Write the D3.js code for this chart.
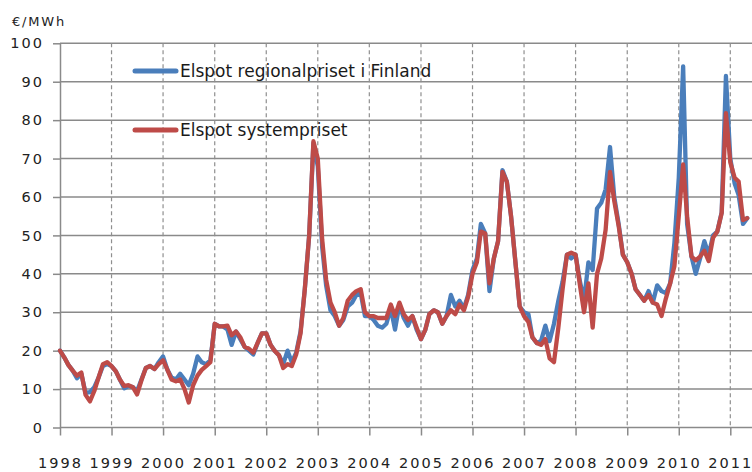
<!DOCTYPE html>
<html>
<head>
<meta charset="utf-8">
<script src="https://cdn.jsdelivr.net/npm/d3@7"></script>
<style>
  body { margin: 0; background: #fff; }
  svg { display: block; }
</style>
</head>
<body>
<div id="chart"></div>
<script>

// Monthly Elspot prices, €/MWh, Jan 1998 - May 2011

// first month of the series, one value per month after that
const startMonth = new Date(1998, 0, 1);

const seriesNames = ["Elspot regionalpriset i Finland", "Elspot systempriset"];

// Elspot regional price, Finland (blue)
const finland = [
  20, 18.2, 16.3, 14.8, 12.8, 14, 9, 9.2, 10.5, 13, 16, 16.5,          // 1998
  16, 14.6, 12.5, 10.2, 10.8, 10.5, 9.5, 12.5, 15.5, 16, 15.2, 17,     // 1999
  18.5, 15, 13, 12.5, 14, 12.5, 11, 14, 18.5, 17, 16.5, 17.5,          // 2000
  27, 26.3, 26.3, 25.5, 21.5, 25, 23, 21, 20, 19, 22, 24.5,            // 2001
  24.5, 21.5, 20, 18.8, 16.5, 20, 17, 19.5, 25, 36, 50, 74,            // 2002
  68, 47, 37, 30.5, 29, 26.5, 28, 31.5, 32.5, 34.5, 35, 29,            // 2003
  29, 28, 26.5, 26, 27, 31, 25.5, 32, 28.5, 26.5, 29, 25.5,            // 2004
  23, 25.5, 29.5, 30.5, 30, 27, 29, 34.5, 31.5, 33, 31, 34.5,          // 2005
  41, 44, 53, 50.5, 35.5, 44, 48.5, 67, 64, 55, 43, 31.5,              // 2006
  30, 29.5, 23.5, 22, 22.5, 26.5, 22.5, 27, 33, 38, 45, 44,            // 2007
  45, 38, 33, 43, 41, 57, 58.5, 62, 73, 60, 53, 45,                    // 2008
  43, 40, 36, 34.5, 33, 35.5, 32.5, 37, 35.5, 35, 37.5, 48,            // 2009
  65, 94, 53, 44.5, 40, 44, 48.5, 45, 50, 51, 56, 91.5,                // 2010
  70, 63.5, 60.5, 53, 54.5                                             // 2011
];

// Elspot system price (red)
const system = [
  20, 18.2, 16.3, 14.8, 13.5, 14.3, 8.5, 6.8, 9.5, 13, 16.5, 17,       // 1998
  16, 14.6, 12.5, 10.8, 11, 10.5, 8.6, 12.3, 15.5, 16, 15.2, 16.5,     // 1999
  17.5, 15, 12.5, 12, 12.5, 10, 6.5, 11, 13.5, 15, 16, 17,             // 2000
  27, 26.3, 26.3, 26.5, 24, 25, 23.5, 21, 20.5, 19.5, 22, 24.5,        // 2001
  24.5, 21.5, 20, 18.8, 15.5, 16.5, 16, 19, 24.5, 36, 50, 74.5,        // 2002
  70, 49, 38.5, 32.5, 30, 26.5, 28.5, 33, 34.5, 35.5, 36, 30,          // 2003
  29, 29, 28.5, 28.5, 28.5, 32, 29, 32.5, 29.5, 28, 29, 26,            // 2004
  23, 25.5, 29.5, 30.5, 30, 27, 29, 30.5, 29.5, 32, 30.5, 34,          // 2005
  40, 43, 51, 50.5, 37.5, 44, 48.5, 66.5, 64, 55, 43, 31.5,            // 2006
  29, 27.5, 23.5, 22, 21.5, 23, 18, 17, 26, 36, 45, 45.5,              // 2007
  45, 37, 30, 37.5, 26, 40, 44, 51.5, 66.5, 59, 52.5, 45,              // 2008
  43, 40, 36, 34.5, 33, 34.5, 32.5, 32, 29, 33.5, 37.5, 42,            // 2009
  55, 68.5, 55, 44.5, 43.5, 44.5, 46, 43.3, 49.4, 51, 55.8, 81.8,      // 2010
  69, 65, 64, 54, 54.5                                                 // 2011
];

const yTicks = [0, 10, 20, 30, 40, 50, 60, 70, 80, 90, 100];
const yUnit = "€/MWh";

const colors = ["#4a7ebb", "#be4b48"];

// Set dimensions
const width = 752;
const height = 472;
const margin = {left: 60, right: 0, top: 43.3, bottom: 44.5};

const svg = d3
  .select("#chart")
  .append("svg")
  .attr("width", width)
  .attr("height", height)
  .attr("viewBox", [0, 0, width, height]);

svg.append("rect")
  .attr("width", width)
  .attr("height", height)
  .attr("fill", "#fff");

// month dates for every value
const months = d3.range(finland.length).map(i => d3.timeMonth.offset(startMonth, i));

/*

  Scales

*/

// 1998 .. 2011 sit on the year lines, data runs a bit past 2011
let xScale = d3.scaleTime()
  .domain([new Date(1998, 0, 1), new Date(2011, 0, 1)])
  .range([margin.left, 730.3]);

let yScale = d3.scaleLinear()
  .domain([0, 100])
  .range([height - margin.bottom, margin.top]);

const years = d3.timeYear.range(new Date(1998, 0, 1), new Date(2011, 0, 2));

/*

  Grid

*/

// horizontal solid lines
svg.append("g")
  .selectAll("line")
  .data(yTicks)
  .enter()
  .append("line")
    .attr("x1", margin.left)
    .attr("x2", width)
    .attr("y1", d => yScale(d))
    .attr("y2", d => yScale(d))
    .attr("stroke", "#8a8a8a")
    .attr("stroke-width", 1.5);

// vertical dashed lines at each new year
svg.append("g")
  .selectAll("line")
  .data(years.slice(1))
  .enter()
  .append("line")
    .attr("x1", d => xScale(d))
    .attr("x2", d => xScale(d))
    .attr("y1", yScale(100))
    .attr("y2", yScale(0))
    .attr("stroke", "#8f8f8f")
    .attr("stroke-width", 1.2)
    .attr("stroke-dasharray", "4,3");

/*

  Axes

*/

const yAxis = svg.append("g")
  .attr("transform", `translate(${margin.left}, 0)`)
  .call(d3.axisLeft(yScale)
          .tickValues(yTicks)
          .tickSizeInner(7)
          .tickSizeOuter(0)
          .tickPadding(9));

const xAxis = svg.append("g")
  .attr("transform", `translate(0, ${yScale(0)})`)
  .call(d3.axisBottom(xScale)
          .tickValues(years)
          .tickFormat(d3.timeFormat("%Y"))
          .tickSizeInner(8)
          .tickSizeOuter(0)
          .tickPadding(22));

xAxis.select(".domain").remove();

[yAxis, xAxis].forEach(ax => {
  ax.selectAll("line, path").attr("stroke", "#8a8a8a").attr("stroke-width", 1.5);
  ax.selectAll("text")
    .attr("font-family", "DejaVu Sans, Verdana, sans-serif")
    .attr("font-size", "14.5px")
    .attr("letter-spacing", "2px")
    .attr("fill", "#222");
});

// unit label
svg.append("text")
  .attr("x", 12)
  .attr("y", 26)
  .attr("font-family", "DejaVu Sans, Verdana, sans-serif")
  .attr("font-size", "13px")
  .attr("letter-spacing", "1.8px")
  .attr("fill", "#222")
  .text(yUnit);

/*

  Lines

*/

const line = d3.line()
  .x((d, i) => xScale(months[i]))
  .y(d => yScale(d));

[finland, system].forEach((s, k) => {
  svg.append("path")
    .datum(s)
    .attr("fill", "none")
    .attr("stroke", colors[k])
    .attr("stroke-width", 4.3)
    .attr("stroke-linejoin", "round")
    .attr("stroke-linecap", "round")
    .attr("d", line);
});

/*

  Legend

*/

const legend = svg.append("g")
  .selectAll("g")
  .data(seriesNames)
  .enter()
  .append("g")
    .attr("transform", (d, i) => `translate(133, ${[71, 130][i]})`);

legend.append("line")
  .attr("x1", 2)
  .attr("x2", 43)
  .attr("stroke", (d, i) => colors[i])
  .attr("stroke-width", 5)
  .attr("stroke-linecap", "round");

legend.append("text")
  .attr("x", 47)
  .attr("y", 6)
  .attr("font-family", "DejaVu Sans, Verdana, sans-serif")
  .attr("font-size", "17px")
  .attr("fill", "#1a1a1a")
  .text(d => d);

</script>
</body>
</html>
